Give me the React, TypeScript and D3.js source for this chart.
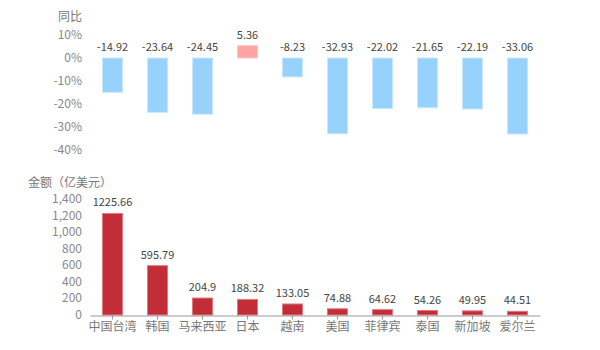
import React, { useEffect, useRef } from 'react';
import * as d3 from 'd3';

const categories = ['中国台湾', '韩国', '马来西亚', '日本', '越南', '美国', '菲律宾', '泰国', '新加坡', '爱尔兰'];
const yoyValues = [-14.92, -23.64, -24.45, 5.36, -8.23, -32.93, -22.02, -21.65, -22.19, -33.06];
const amountValues = [1225.66, 595.79, 204.9, 188.32, 133.05, 74.88, 64.62, 54.26, 49.95, 44.51];
const yoyTicks = [10, 0, -10, -20, -30, -40];
const amountTicks = [0, 200, 400, 600, 800, 1000, 1200, 1400];

const FONT = '"Noto Sans CJK SC", "Noto Sans", sans-serif';

const App = () => {
    const ref = useRef<SVGSVGElement>(null);

    useEffect(() => {
        const svg = d3.select(ref.current);
        svg.selectAll('*').remove();

        const x = d3.scaleBand().domain(categories).range([90, 540]).paddingInner(0.556).paddingOuter(0.278);

        // top: year-on-year
        const yTop = d3.scaleLinear().domain([-40, 10]).range([150, 35]);
        const top = svg.append('g');

        top.append('text').text('同比')
            .attr('x', 82).attr('y', 21).attr('text-anchor', 'end')
            .style('font-size', '12px').style('fill', '#777');

        top.selectAll('.ytick').data(yoyTicks).enter().append('text')
            .attr('x', 82).attr('y', d => yTop(d) + 4).attr('text-anchor', 'end')
            .text(d => d + '%')
            .style('font-size', '12px').style('fill', '#888');

        top.selectAll('.bar').data(yoyValues).enter().append('rect')
            .attr('x', (d, i) => x(categories[i])!)
            .attr('width', x.bandwidth())
            .attr('y', d => yTop(Math.max(0, d)))
            .attr('height', d => Math.abs(yTop(d) - yTop(0)))
            .attr('fill', d => d >= 0 ? '#ffa4a4' : '#97d2fc')
            .attr('stroke', d => d >= 0 ? '#ffc8c8' : '#c7e8ff')
            .attr('stroke-width', 1);

        top.selectAll('.lbl').data(yoyValues).enter().append('text')
            .attr('x', (d, i) => x(categories[i])! + x.bandwidth() / 2)
            .attr('y', d => yTop(Math.max(0, d)) - 7)
            .attr('text-anchor', 'middle')
            .text(d => d)
            .style('font-size', '11px').style('fill', '#444');

        // bottom: amount
        const yBot = d3.scaleLinear().domain([0, 1400]).range([315, 199]);
        const bot = svg.append('g');

        bot.append('text').text('金额（亿美元）')
            .attr('x', 28).attr('y', 187)
            .style('font-size', '12px').style('fill', '#777');

        bot.selectAll('.ytick').data(amountTicks).enter().append('text')
            .attr('x', 82).attr('y', d => yBot(d) + 4).attr('text-anchor', 'end')
            .text(d => d3.format(',')(d))
            .style('font-size', '12px').style('fill', '#888');

        bot.selectAll('.bar').data(amountValues).enter().append('rect')
            .attr('x', (d, i) => x(categories[i])!)
            .attr('width', x.bandwidth())
            .attr('y', d => yBot(d))
            .attr('height', d => yBot(0) - yBot(d))
            .attr('fill', '#c22d37')
            .attr('stroke', '#e07a80')
            .attr('stroke-width', 1);

        bot.selectAll('.lbl').data(amountValues).enter().append('text')
            .attr('x', (d, i) => x(categories[i])! + x.bandwidth() / 2)
            .attr('y', d => yBot(d) - 7)
            .attr('text-anchor', 'middle')
            .text(d => d)
            .style('font-size', '11px').style('fill', '#444');

        const axis = bot.append('g').attr('transform', `translate(0,${yBot(0) + 0.5})`)
            .call(d3.axisBottom(x).tickSize(4).tickSizeOuter(0).tickPadding(3));
        axis.select('.domain').attr('stroke', '#999');
        axis.selectAll('.tick line').attr('stroke', '#999');
        axis.selectAll('.tick text').style('font-size', '12px').style('fill', '#777').style('font-family', FONT);
    }, []);

    return (
        <svg ref={ref} width={600} height={350}
            style={{ position: 'absolute', left: 0, top: 0, fontFamily: FONT, background: '#fff' }} />
    );
};

export default App;
